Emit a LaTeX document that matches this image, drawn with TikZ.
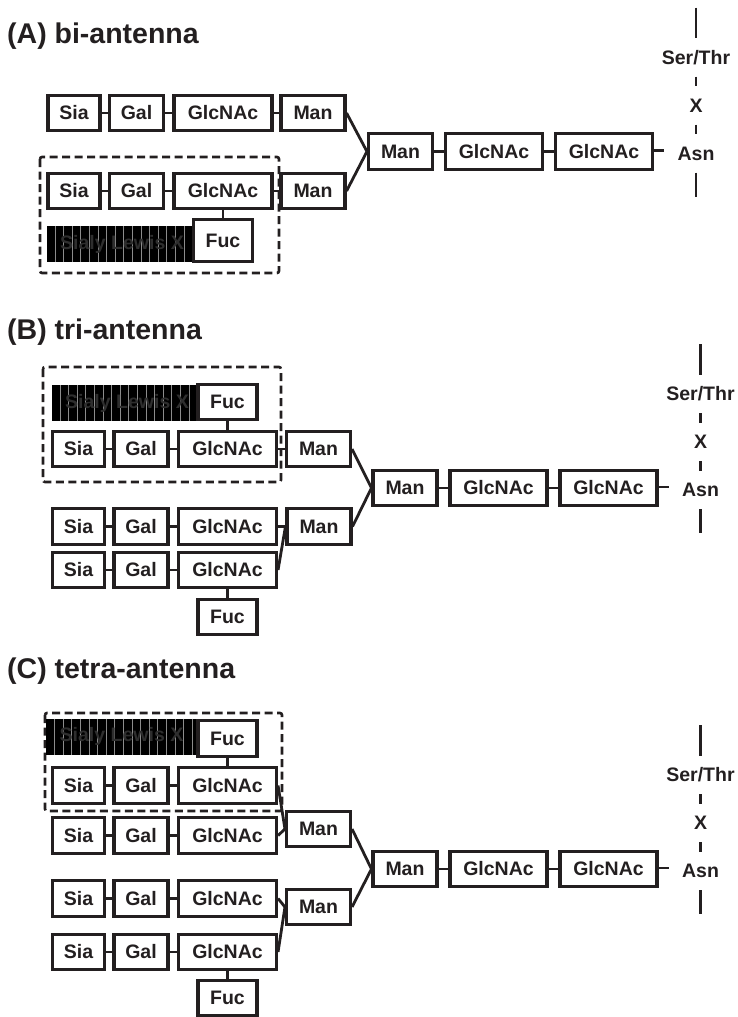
\documentclass[tikz,border=0pt]{standalone}
\usepackage{fontspec}
\setmainfont{Liberation Sans}
\usetikzlibrary{positioning}
\definecolor{ink}{HTML}{231F20}
\tikzset{
  sugar/.style={
    draw = ink,
    line width = 3.1pt,
    fill = white,
    text = ink,
    inner sep = 0pt,
    minimum height = 35.5pt,
    font = \fontsize{19.5}{22}\selectfont\bfseries
  },
  link/.style={
    draw = ink,
    line width = 2.8pt
  },
  motif/.style={
    draw = ink,
    line width = 2.6pt,
    dash pattern = on 8pt off 4.5pt,
    rounded corners = 2pt
  },
  residue/.style={
    text = ink,
    inner sep = 0pt,
    minimum height = 38pt,
    font = \fontsize{19.5}{22}\selectfont\bfseries
  },
  panel/.style={
    anchor = west,
    text = ink,
    inner sep = 0pt,
    font = \fontsize{28.5}{30}\selectfont\bfseries
  },
}
\tikzset{
  slex/.style={
    fill = black,
    inner sep = 0pt,
    minimum width = 151pt,
    minimum height = 36pt,
    text = black!82,
    font = \fontsize{19.5}{22}\selectfont\bfseries,
    path picture={
      \foreach \s in {1,...,17}
        \draw[black!45, line width=1pt]
          ([xshift=\s*8.6pt]path picture bounding box.north west) --
          ([xshift=\s*8.6pt]path picture bounding box.south west);
    }
  },
}
\begin{document}
\begin{tikzpicture}[x=1pt,y=-1pt]
\useasboundingbox (0,0) rectangle (738,1017);
% panel titles
\node[panel] (ttlA) at (7,36.5) {(A) bi-antenna};
\node[panel] (ttlB) at (7,332) {(B) tri-antenna};
\node[panel] (ttlC) at (7,671) {(C) tetra-antenna};
% sialyl Lewis X frames
\draw[motif] (40,157) rectangle (279,273);
\draw[motif] (43,367) rectangle (281,482);
\draw[motif] (45,713) rectangle (282,811);
\node[slex] (slxA) at (122,244) {Sialy Lewis X};
\node[slex] (slxB) at (127,403) {Sialy Lewis X};
\node[slex] (slxC) at (121.5,736.5) {Sialy Lewis X};
% core + peptide
\foreach \p/\dx/\cy in {A/0/151.5,B/4.5/488,C/4.5/869}{
  \node[sugar, minimum width=64pt] (core\p) at (400.5+\dx,\cy) {Man};
  \node[sugar, minimum width=97pt] (chito\p) at (494+\dx,\cy) {GlcNAc};
  \node[sugar, minimum width=97pt] (chitob\p) at (604+\dx,\cy) {GlcNAc};
  \coordinate (tail\p) at (664+\dx,\cy-1);
  \node[residue] (asn\p) at (696+\dx,\cy+2) {Asn};
  \node[residue] (x\p) at (696+\dx,\cy-46) {X};
  \node[residue] (st\p) at (696+\dx,\cy-94) {Ser/Thr};
  \coordinate (top\p) at (696+\dx,\cy-144);
  \coordinate (bot\p) at (696+\dx,\cy+45);
  \draw[link] (core\p) -- (chito\p);
  \draw[link] (chito\p) -- (chitob\p);
  \draw[link] (chitob\p.east |- tail\p) -- (tail\p);
  \draw[link] (top\p) -- (st\p.north);
  \draw[link] (st\p.south) -- (x\p.north);
  \draw[link] (x\p.south) -- (asn\p.north);
  \draw[link] (asn\p.south) -- (bot\p);
}
% antennae
\foreach \r/\dx/\y in {a1/-4.5/113,a2/-4.5/191,b1/0/449,b2/0/526.5,b3/0/570,
                       c1/0/785.5,c2/0/835.5,c3/0/898.5,c4/0/952}{
  \node[sugar, minimum width=52pt] (sia\r) at (78.5+\dx,\y) {Sia};
  \node[sugar, minimum width=54pt] (gal\r) at (141+\dx,\y) {Gal};
  \node[sugar, minimum width=98pt] (glc\r) at (227.5+\dx,\y) {GlcNAc};
  \draw[link] (sia\r) -- (gal\r);
  \draw[link] (gal\r) -- (glc\r);
}
\node[sugar, minimum width=64pt] (manA1) at (313,113) {Man};
\node[sugar, minimum width=64pt] (manA2) at (313,191) {Man};
\node[sugar, minimum width=64pt] (manB1) at (318.5,449) {Man};
\node[sugar, minimum width=64pt] (manB2) at (319,526.5) {Man};
\node[sugar, minimum width=64pt] (manC1) at (318.5,829) {Man};
\node[sugar, minimum width=64pt] (manC2) at (318.5,907) {Man};
\node[sugar, minimum width=59pt, minimum height=42pt] (fucA) at (223,240.5) {Fuc};
\node[sugar, minimum width=59pt] (fucB1) at (227.5,402) {Fuc};
\node[sugar, minimum width=59pt] (fucB2) at (227.5,617) {Fuc};
\node[sugar, minimum width=59pt] (fucC1) at (227.5,738.5) {Fuc};
\node[sugar, minimum width=59pt] (fucC2) at (227.5,998) {Fuc};
% linkages
\draw[link] (glca1) -- (manA1);
\draw[link] (glca2) -- (manA2);
\draw[link] (glca2) -- (fucA);
\draw[link] (manA1.east) -- (coreA.west);
\draw[link] (manA2.east) -- (coreA.west);
\draw[link] (glcb1) -- (manB1);
\draw[link] (glcb2) -- (manB2);
\draw[link] (glcb3.east) -- (manB2.west);
\draw[link] (fucB1) -- (glcb1);
\draw[link] (glcb3) -- (fucB2);
\draw[link] (manB1.east) -- (coreB.west);
\draw[link] (manB2.east) -- (coreB.west);
\draw[link] (glcc1.east) -- (manC1.west);
\draw[link] (glcc2.east) -- (manC1.west);
\draw[link] (glcc3.east) -- (manC2.west);
\draw[link] (glcc4.east) -- (manC2.west);
\draw[link] (fucC1) -- (glcc1);
\draw[link] (glcc4) -- (fucC2);
\draw[link] (manC1.east) -- (coreC.west);
\draw[link] (manC2.east) -- (coreC.west);
\end{tikzpicture}
\end{document}
